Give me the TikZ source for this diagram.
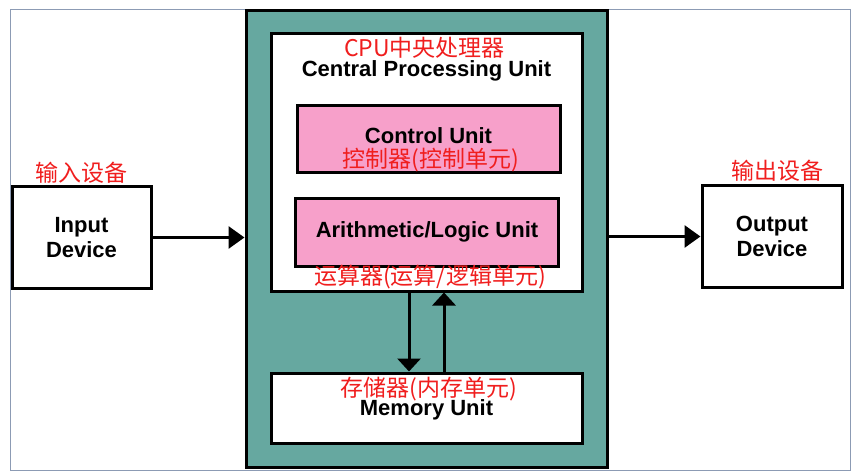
\documentclass[tikz,border=0pt]{standalone}
\usepackage{fontspec}
\setmainfont{Liberation Sans}
\newfontfamily\cjk{Noto Sans CJK SC}
\usetikzlibrary{positioning}
\usetikzlibrary{arrows.meta}
\definecolor{cputeal}{RGB}{102,168,160}
\definecolor{unitpink}{RGB}{247,160,202}
\definecolor{cnred}{RGB}{240,30,30}
\definecolor{framegray}{RGB}{140,155,180}

\begin{document}
\begin{tikzpicture}[x=1pt, y=-1pt, line width=3pt,
    box/.style={draw, rectangle, inner sep=0pt},
    en/.style={font=\fontsize{22}{25.5}\selectfont\bfseries, align=center, inner sep=0pt},
    cn/.style={font=\fontsize{23}{26}\selectfont\cjk, text=cnred, inner sep=0pt},
    flow/.style={-{Triangle[length=16pt, width=22pt]}},
    bus/.style={-{Triangle[length=13pt, width=23pt]}}]
    \useasboundingbox (0,0) rectangle (855,476);
    \draw[framegray, line width=1pt] (10,10) rectangle (850,470);

    \node[box, fill=cputeal, minimum width=361pt, minimum height=456pt] (cpu) at (426.5,239) {};
    \node[box, fill=white, minimum width=311pt, minimum height=257pt] (core) at (426.5,162.5) {};
    \node[box, fill=unitpink, minimum width=263pt, minimum height=67pt] (cu) at (428.5,139.5) {};
    \node[box, fill=unitpink, minimum width=263pt, minimum height=67pt] (alu) at (426.5,232.5) {};
    \node[box, fill=white, minimum width=311pt, minimum height=70pt] (mem) at (426.5,408) {};

    \node[box, en, fill=white, minimum width=139pt, minimum height=101pt] (input) at (81.5,237.5) {Input\\Device};
    \node[box, en, fill=white, minimum width=140pt, minimum height=101pt] (output) at (772,236.5) {Output\\Device};
    \node[cn, above=1pt of input] (inlabel) {输入设备};
    \node[cn, above=2pt of output, xshift=5pt] (outlabel) {输出设备};

    \node[cn] (cputitle) at (424.5,48) {CPU中央处理器};
    \node[en, anchor=base] (cputext) at (426.5,77) {Central Processing Unit};
    \node[en, anchor=base] (cutext) at (428.5,144) {Control Unit};
    \node[cn] (culabel) at (431,160.5) {控制器(控制单元)};
    \node[en, anchor=base] (alutext) at (427,237) {Arithmetic/Logic Unit};
    \node[cn] (alulabel) at (430,277) {运算器(运算/逻辑单元)};
    \node[cn] (memlabel) at (429,389.5) {存储器(内存单元)};
    \node[en, anchor=base] (memtext) at (426.5,415) {Memory Unit};

    \draw[flow] (input.east) -- (input.east -| cpu.west);
    \draw[flow] (cpu.east |- output.west) -- (output.west);
    \draw[bus] ([xshift=-17.5pt]core.south) -- ([xshift=-17.5pt]mem.north);
    \draw[bus] ([xshift=17.5pt]mem.north) -- ([xshift=17.5pt]core.south);
\end{tikzpicture}
\end{document}
